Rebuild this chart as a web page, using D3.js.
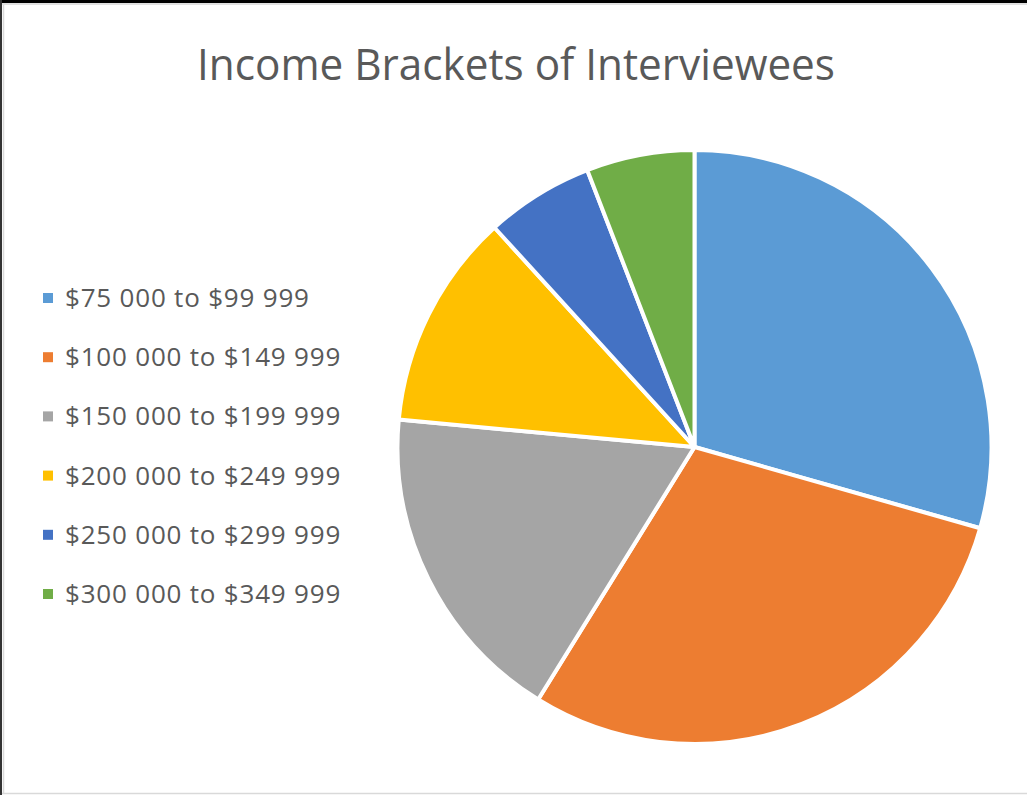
<!DOCTYPE html>
<html>
<head>
<meta charset="utf-8">
<script src="https://cdn.jsdelivr.net/npm/d3@7"></script>
<style>
  html, body { margin: 0; padding: 0; background: #ffffff; }
  svg { display: block; }
</style>
</head>
<body>
<svg id="chart" width="1027" height="795"></svg>
<script>
// Income brackets and number of interviewees in each
const categories = [
  "$75 000 to $99 999",
  "$100 000 to $149 999",
  "$150 000 to $199 999",
  "$200 000 to $249 999",
  "$250 000 to $299 999",
  "$300 000 to $349 999"
];
const counts = [10, 10, 6, 4, 2, 2];
const colors = ["#5B9BD5", "#ED7D31", "#A5A5A5", "#FFC000", "#4472C4", "#70AD47"];
const title = "Income Brackets of Interviewees";

const W = 1027, H = 795;
const svg = d3.select("#chart");

// frame
svg.append("rect").attr("x", 0).attr("y", 0).attr("width", W).attr("height", H).attr("fill", "#ffffff");
svg.append("rect").attr("x", 0).attr("y", 0).attr("width", W).attr("height", 3).attr("fill", "#000000");
svg.append("rect").attr("x", 0).attr("y", 0).attr("width", 2).attr("height", H).attr("fill", "#333333");
svg.append("line").attr("x1", 3.5).attr("x2", 3.5).attr("y1", 3).attr("y2", H - 1)
  .attr("stroke", "#d9d9d9").attr("stroke-width", 1.5);
svg.append("line").attr("x1", 2).attr("x2", W).attr("y1", 4).attr("y2", 4)
  .attr("stroke", "#e0e0e0").attr("stroke-width", 2);
svg.append("line").attr("x1", 2).attr("x2", W).attr("y1", 793.5).attr("y2", 793.5)
  .attr("stroke", "#d9d9d9").attr("stroke-width", 1.5);

// title
svg.append("text")
  .attr("x", 516).attr("y", 80)
  .attr("text-anchor", "middle")
  .attr("font-family", "'Open Sans', 'Liberation Sans', sans-serif")
  .attr("font-size", 44)
  .attr("fill", "#595959")
  .attr("textLength", 638)
  .attr("lengthAdjust", "spacingAndGlyphs")
  .text(title);

// pie
const data = categories.map((c, i) => ({ name: c, value: counts[i], color: colors[i] }));
const pie = d3.pie().value(d => d.value).sort(null);
const arc = d3.arc().innerRadius(0).outerRadius(297);
const color = d3.scaleOrdinal().domain(categories).range(colors);

const g = svg.append("g").attr("transform", "translate(694.5,447)");
g.selectAll("path")
  .data(pie(data))
  .join("path")
  .attr("d", arc)
  .attr("fill", d => color(d.data.name))
  .attr("stroke", "#ffffff")
  .attr("stroke-width", 4)
  .attr("stroke-linejoin", "round");

// legend
const legendY = d3.scalePoint().domain(categories).range([298, 594]);
const legend = svg.append("g");
const items = legend.selectAll("g")
  .data(categories)
  .join("g")
  .attr("transform", d => `translate(0,${legendY(d)})`);
items.append("rect")
  .attr("x", 43).attr("y", -5).attr("width", 10).attr("height", 10)
  .attr("fill", d => color(d));
items.append("text")
  .attr("x", 65).attr("y", 9)
  .attr("font-family", "'Open Sans', 'Liberation Sans', sans-serif")
  .attr("font-size", 26)
  .attr("letter-spacing", 0.8)
  .attr("fill", "#595959")
  .text(d => d);
</script>
</body>
</html>
